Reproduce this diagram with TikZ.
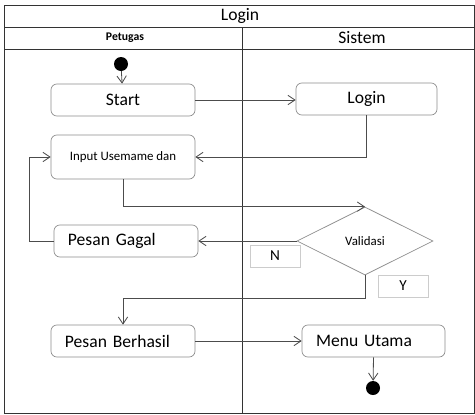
\documentclass[tikz,border=0pt]{standalone}
\usepackage{fontspec}
\setmainfont{Carlito}
\usetikzlibrary{arrows.meta,shapes.geometric}
\tikzset{
	lane/.style={draw=black!80, line width=0.7pt},
	actbox/.style={draw=black!45, line width=0.6pt, rounded corners=5pt, minimum width=4.32cm, minimum height=0.96cm, inner sep=0pt, font=\fontsize{15}{17}\selectfont},
	leftbox/.style={actbox, align=left, text width=3.48cm, inner xsep=0.42cm},
	flow/.style={draw=black!70, line width=0.7pt, -{Straight Barb[length=6pt,width=8pt]}},
	dot/.style={circle, fill=black, minimum size=0.42cm, inner sep=0pt},
	guard/.style={draw=black!20, minimum width=1.5cm, minimum height=0.66cm, inner sep=0pt, font=\fontsize{13}{15}\selectfont}
}
\begin{document}
\begin{tikzpicture}[x=0.03cm, y=-0.03cm]
			%%%%% START %%%%%
			\useasboundingbox (0, 0) rectangle (475, 414);
			
			\draw[lane] (4, 5) rectangle (474, 413);
			\draw[lane] (4, 27) -- (474, 27);
			\draw[lane] (4, 49) -- (474, 49);
			\draw[lane] (242, 27) -- (242, 413);
			
			\node[font=\fontsize{15}{17}\selectfont] (title) at (240, 16) {Login};
			\node[font=\fontsize{10}{12}\selectfont\bfseries] (petugas) at (125, 38) {Petugas};
			\node[font=\fontsize{15}{17}\selectfont] (sistem) at (362, 38) {Sistem};
			
			\node[dot] (init) at (121, 64) {};
			\node[actbox] (start) at (123, 100) {Start};
			\node[actbox, minimum width=4.23cm] (login) at (366.5, 99) {Login};
			\node[actbox, minimum height=1.32cm, font=\fontsize{11}{13}\selectfont] (input) at (123, 157) {Input Usemame dan};
			\node[diamond, draw=black!45, line width=0.6pt, minimum width=4.08cm, minimum height=2.04cm, inner sep=0pt, font=\fontsize{11}{13}\selectfont] (valid) at (365, 241) {Validasi};
			\node[leftbox] (gagal) at (126, 241) {Pesan Gagal};
			\node[leftbox] (berhasil) at (123, 341) {Pesan Berhasil};
			\node[leftbox, minimum width=4.29cm, text width=3.45cm] (menu) at (373.5, 341) {Menu Utama};
			\node[dot] (final) at (373, 388) {};
			
			\node[guard] (no) at (275, 256) {N};
			\node[guard] (yes) at (403, 286) {Y};
			
			\draw[flow] (init) -- (start);
			\draw[flow] (start.east) -- (start.east -| login.west);
			\draw[flow] (login.south) |- (input.east);
			\draw[flow] (input.south) |- (valid.north);
			\draw[flow] (valid.west) -- (gagal.east);
			\draw[flow] (gagal.west) -- ++(-24, 0) |- (input.west);
			\draw[flow] (valid.south) -- ++(0, 23) -| (berhasil.north);
			\draw[flow] (berhasil.east) -- (menu.west);
			\draw[flow] (menu.south) -- (final);
			
			%%%%% END %%%%%
		\end{tikzpicture}
\end{document}
